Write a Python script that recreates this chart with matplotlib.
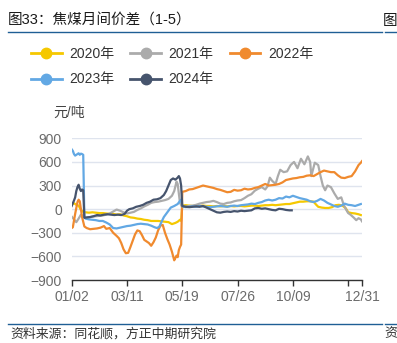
import matplotlib.pyplot as plt
from matplotlib.lines import Line2D

plt.rcParams['font.family'] = ['Liberation Sans', 'Noto Sans CJK SC']

# 交易日序号（从 01/02 起）与各年份价差，单位：元/吨
days_2020 = [0, 2, 4, 6, 8, 10, 12, 15, 18, 21, 24, 27, 30, 33, 36, 39, 42, 45, 48, 51,
             54, 57, 60, 63, 66, 69, 72, 75, 78, 81, 84, 87, 90, 92, 94, 95, 96, 99, 102,
             105, 108, 111, 114, 117, 120, 123, 126, 129, 132, 135, 138, 141, 144, 147,
             150, 153, 156, 159, 162, 165, 168, 171, 174, 177, 180, 183, 186, 189, 192,
             195, 198, 201, 204, 207, 210, 212, 214, 217, 220, 223, 226, 229, 232, 235,
             238, 240, 243, 246, 249, 251]
vals_2020 = [60, 75, 55, 45, -10, -35, -40, -45, -40, -45, -50, -50, -55, -60, -60, -70,
             -65, -80, -90, -105, -110, -120, -125, -135, -140, -150, -150, -150, -155,
             -160, -165, -190, -175, -160, -135, -150, 45, 50, 45, 40, 45, 40, 45, 40, 40,
             35, 40, 35, 40, 35, 40, 35, 40, 40, 35, 40, 45, 45, 40, 45, 50, 50, 55, 50,
             55, 60, 65, 65, 75, 85, 95, 95, 100, 100, 95, 60, 30, 20, 15, 15, 25, 50, 55,
             45, 10, -40, -50, -55, -65, -75]

days_2021 = [0, 2, 4, 6, 8, 10, 12, 15, 18, 21, 24, 27, 30, 33, 36, 39, 42, 45, 48, 51,
             54, 57, 60, 63, 66, 69, 72, 75, 78, 81, 84, 87, 89, 90, 91, 92, 93, 94, 96,
             99, 102, 105, 108, 111, 114, 117, 120, 123, 126, 129, 132, 135, 138, 141,
             144, 147, 150, 153, 156, 159, 162, 165, 168, 170, 172, 174, 177, 179, 181,
             184, 187, 190, 193, 196, 199, 202, 205, 207, 208, 211, 214, 216, 218, 220,
             222, 225, 228, 231, 234, 236, 238, 240, 242, 245, 247, 249, 251, 252]
vals_2021 = [-95, -130, -165, -120, -70, -90, -110, -105, -95, -90, -85, -80, -70, -55,
             -30, -5, -20, -40, -55, -45, -35, -10, 10, 35, 55, 80, 90, 95, 105, 115, 130,
             170, 230, 290, 350, 320, 200, 80, 25, 30, 40, 45, 55, 70, 80, 90, 95, 105,
             90, 70, 65, 80, 85, 100, 110, 115, 140, 170, 190, 235, 260, 280, 250, 290,
             400, 360, 320, 420, 500, 470, 480, 560, 600, 520, 640, 570, 670, 600, 420,
             590, 560, 420, 300, 240, 300, 280, 200, 130, 150, 60, 0, -50, -70, -110,
             -140, -115, -130, -155]

days_2022 = [0, 1, 3, 5, 6, 7, 9, 11, 13, 16, 19, 22, 25, 28, 30, 33, 36, 39, 41, 43, 45,
             47, 49, 51, 53, 55, 57, 59, 61, 63, 65, 67, 69, 71, 73, 75, 77, 79, 81, 83,
             85, 87, 89, 90, 91, 92, 93, 94, 95, 96, 99, 102, 105, 108, 111, 114, 117,
             120, 123, 126, 129, 132, 135, 138, 141, 144, 147, 150, 153, 156, 159, 162,
             165, 168, 171, 174, 177, 180, 183, 186, 189, 192, 195, 198, 201, 204, 207,
             210, 213, 216, 219, 222, 225, 228, 231, 234, 237, 240, 243, 246, 249, 251,
             252]
vals_2022 = [-240, -230, -60, 90, 120, 100, -100, -220, -240, -255, -250, -245, -235,
             -215, -250, -240, -300, -340, -370, -430, -510, -560, -555, -480, -400, -320,
             -270, -280, -330, -390, -410, -430, -465, -420, -360, -270, -210, -200, -300,
             -380, -450, -540, -650, -620, -590, -610, -520, -480, -450, 220, 230, 250,
             255, 270, 285, 300, 290, 280, 270, 255, 245, 230, 215, 220, 245, 235, 240,
             260, 250, 255, 270, 280, 300, 320, 300, 305, 310, 320, 340, 370, 380, 390,
             395, 405, 410, 425, 430, 420, 445, 470, 490, 480, 470, 470, 430, 400, 395,
             410, 420, 480, 560, 590, 610]

days_2023 = [0, 1, 2, 3, 4, 5, 6, 7, 8, 9, 10, 11, 12, 15, 18, 21, 24, 27, 30, 33, 36, 39,
             42, 45, 48, 51, 54, 57, 60, 63, 66, 69, 72, 74, 76, 78, 80, 83, 86, 89, 92,
             94, 95, 96, 99, 102, 105, 108, 111, 114, 117, 120, 123, 126, 129, 132, 135,
             138, 141, 144, 147, 150, 153, 156, 159, 162, 165, 168, 171, 174, 177, 180,
             183, 186, 189, 192, 195, 198, 201, 204, 207, 210, 213, 216, 219, 222, 225,
             228, 231, 234, 237, 240, 243, 246, 249, 251]
vals_2023 = [760, 740, 700, 680, 690, 700, 710, 690, 705, 700, 690, -100, -120, -130,
             -135, -140, -150, -150, -170, -195, -240, -245, -235, -225, -215, -210, -200,
             -190, -185, -190, -195, -210, -230, -240, -225, -160, -100, -40, 20, 40, 65,
             105, 120, 35, 25, 30, 35, 30, 40, 35, 30, 25, 30, 35, 40, 35, 30, 40, 45, 40,
             50, 55, 60, 70, 65, 80, 90, 110, 120, 110, 120, 140, 135, 160, 150, 170, 155,
             140, 130, 120, 100, 90, 105, 130, 110, 80, 60, 40, 30, 45, 70, 55, 50, 40,
             55, 65]

days_2024 = [0, 2, 3, 4, 5, 6, 7, 8, 9, 10, 11, 13, 16, 19, 22, 25, 28, 31, 34, 37, 40,
             43, 46, 48, 50, 53, 56, 59, 62, 65, 68, 71, 74, 77, 80, 82, 84, 86, 88, 90,
             92, 93, 94, 95, 96, 99, 102, 105, 108, 111, 114, 117, 120, 123, 126, 129,
             132, 135, 138, 141, 144, 147, 150, 153, 156, 159, 162, 165, 168, 171, 174,
             177, 180, 183, 186, 189, 191]
vals_2024 = [40, 110, 150, 230, 280, 310, 260, 230, 250, 240, -110, -105, -100, -90, -75,
             -80, -70, -65, -70, -75, -70, -75, -60, -20, 0, 10, 30, 40, 55, 80, 95, 120,
             125, 140, 180, 230, 300, 370, 390, 375, 400, 420, 390, 300, 40, 30, 25, 30,
             35, 30, 40, 20, 0, -20, -40, -45, -35, -30, -35, -25, -30, -20, -25, -20,
             -15, 10, 15, 5, 10, 0, -10, -15, 5, 0, -10, -15, -15]

years = ['2020年', '2021年', '2022年', '2023年', '2024年']
colors = ['#f5c800', '#ababab', '#f08a2e', '#62a8e4', '#46546d']
series = [(days_2020, vals_2020), (days_2021, vals_2021), (days_2022, vals_2022),
          (days_2023, vals_2023), (days_2024, vals_2024)]

tick_days = [0, 48, 96, 144, 192, 240, 252]
tick_labels = ['01/02', '03/11', '05/19', '07/26', '10/09', '', '12/31']
y_ticks = [-900, -600, -300, 0, 300, 600, 900]

W, H = 397, 343
fig = plt.figure(figsize=(W / 100, H / 100), dpi=100)
ax = fig.add_axes([71.7 / W, 1 - 280 / H, (362 - 71.7) / W, (280 - 138.3) / H])

for (d, v), c in zip(series, colors):
    ax.plot(d, v, color=c, lw=1.6, solid_joinstyle='round')

ax.set_xlim(0, 252)
ax.set_ylim(-900, 900)
ax.set_xticks(tick_days)
ax.set_xticklabels(tick_labels)
ax.set_yticks(y_ticks)
ax.yaxis.grid(True, color='#dfe4ee', lw=1)
ax.set_axisbelow(True)
for s in ['top', 'right', 'left']:
    ax.spines[s].set_visible(False)
ax.spines['bottom'].set_color('#333333')
ax.spines['bottom'].set_linewidth(1)
ax.tick_params(axis='y', length=0, pad=7, labelcolor='#6b6b6b', labelsize=10)
ax.tick_params(axis='x', length=4.5, width=1, color='#333333', pad=3,
               labelcolor='#6b6b6b', labelsize=10)

# 图例按行排列：图例按列填充，所以先把顺序调一下
handles = [Line2D([], [], color=c, lw=2, marker='o', markersize=7.5) for c in colors]
order = [0, 3, 1, 4, 2]
fig.legend([handles[i] for i in order], [years[i] for i in order], ncol=3,
           loc='upper left', bbox_to_anchor=(31 / W, 1 - 47 / H),
           frameon=False, fontsize=10, handlelength=2.2, handletextpad=0.55,
           columnspacing=1.15, labelspacing=0.82, borderpad=0, borderaxespad=0,
           labelcolor='#333333')

fig.text(53 / W, 1 - 113 / H, '元/吨', fontsize=10, color='#444444', va='center')

# 标题与来源
fig.text(8 / W, 1 - 21 / H, '图33：焦煤月间价差（1-5）', fontsize=10.5, color='#1a1a1a',
         va='center')
fig.text(383 / W, 1 - 21 / H, '图', fontsize=10.5, color='#1a1a1a', va='center')
fig.add_artist(Line2D([8 / W, 382 / W], [1 - 32 / H] * 2, color='#1f5f95', lw=1))
fig.add_artist(Line2D([385 / W, 1], [1 - 32 / H] * 2, color='#1f5f95', lw=1))
fig.add_artist(Line2D([8 / W, 382 / W], [1 - 324 / H] * 2, color='#1f5f95', lw=1))
fig.add_artist(Line2D([385 / W, 1], [1 - 324 / H] * 2, color='#1f5f95', lw=1))
fig.text(10 / W, 1 - 334 / H, '资料来源：同花顺，方正中期研究院', fontsize=9.3,
         color='#333333', va='center', style='italic')
fig.text(384 / W, 1 - 334 / H, '资', fontsize=9.3, color='#333333', va='center')

fig.savefig('out.png', dpi=100)
